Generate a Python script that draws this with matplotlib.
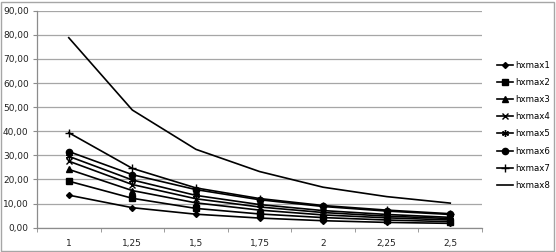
import matplotlib.pyplot as plt
from matplotlib.patches import Rectangle

plt.rcParams["font.family"] = "DejaVu Sans"

categories = ["1", "1,25", "1,5", "1,75", "2", "2,25", "2,5"]
series_names = ["hxmax1", "hxmax2", "hxmax3", "hxmax4",
                "hxmax5", "hxmax6", "hxmax7", "hxmax8"]

hxmax1 = [13.5, 8.3, 5.6, 4.0, 2.9, 2.2, 1.8]
hxmax2 = [19.3, 12.2, 8.0, 5.7, 4.2, 3.2, 2.5]
hxmax3 = [24.2, 15.4, 10.3, 7.3, 5.3, 4.1, 3.2]
hxmax4 = [27.6, 17.9, 12.0, 8.6, 6.3, 4.8, 3.8]
hxmax5 = [29.6, 19.8, 13.4, 9.6, 7.1, 5.5, 4.3]
hxmax6 = [31.6, 22.0, 15.8, 11.6, 8.8, 6.9, 5.5]
hxmax7 = [39.4, 24.6, 16.5, 12.1, 9.2, 7.3, 5.8]
hxmax8 = [78.8, 48.8, 32.5, 23.3, 16.8, 12.9, 10.2]
all_series = [hxmax1, hxmax2, hxmax3, hxmax4, hxmax5, hxmax6, hxmax7, hxmax8]

markers = ["D", "s", "^", "x", (6, 2, 0), "o", "+", None]
msizes = [3, 4, 4, 4.5, 5, 4.5, 5.5, 0]

fig = plt.figure(figsize=(5.56, 2.52), dpi=100)
ax = fig.add_axes([0.0665, 0.0964, 0.8005, 0.8611])

x = list(range(len(categories)))
for name, vals, m, ms in zip(series_names, all_series, markers, msizes):
    ax.plot(x, vals, color="black", linewidth=1.2, marker=m, markersize=ms,
            markeredgewidth=1.0, markerfacecolor="black", label=name)

ax.set_xlim(-0.5, len(categories) - 0.5)
ax.set_ylim(0, 90)
ax.set_yticks(range(0, 91, 10))
ax.set_yticklabels([f"{v:.2f}".replace(".", ",") for v in range(0, 91, 10)])
ax.set_xticks(x)
ax.set_xticklabels(categories)
ax.set_xticks([i - 0.5 for i in range(len(categories) + 1)], minor=True)
ax.tick_params(axis="x", which="major", length=0, pad=8, labelsize=6.5, labelcolor="#222222")
ax.tick_params(axis="x", which="minor", length=3, color="#8c8c8c", direction="out")
ax.tick_params(axis="y", length=3, color="#8c8c8c", labelsize=6.5, labelcolor="#222222", pad=3)

ax.grid(axis="y", color="#a6a6a6", linewidth=0.9)
ax.set_axisbelow(True)
for s in ["top", "right"]:
    ax.spines[s].set_visible(False)
for s in ["left", "bottom"]:
    ax.spines[s].set_color("#8c8c8c")
    ax.spines[s].set_linewidth(0.9)

leg = fig.legend(loc="center left", bbox_to_anchor=(0.893, 0.503), frameon=False,
                 fontsize=6.2, handlelength=1.9, labelspacing=0.95, handletextpad=0.3,
                 borderpad=0, borderaxespad=0)

fig.patches.append(Rectangle((0.002, 0.004), 0.995, 0.99, transform=fig.transFigure,
                             facecolor="none", edgecolor="#a6a6a6", linewidth=1.0))

fig.savefig("out.png", dpi=100)
